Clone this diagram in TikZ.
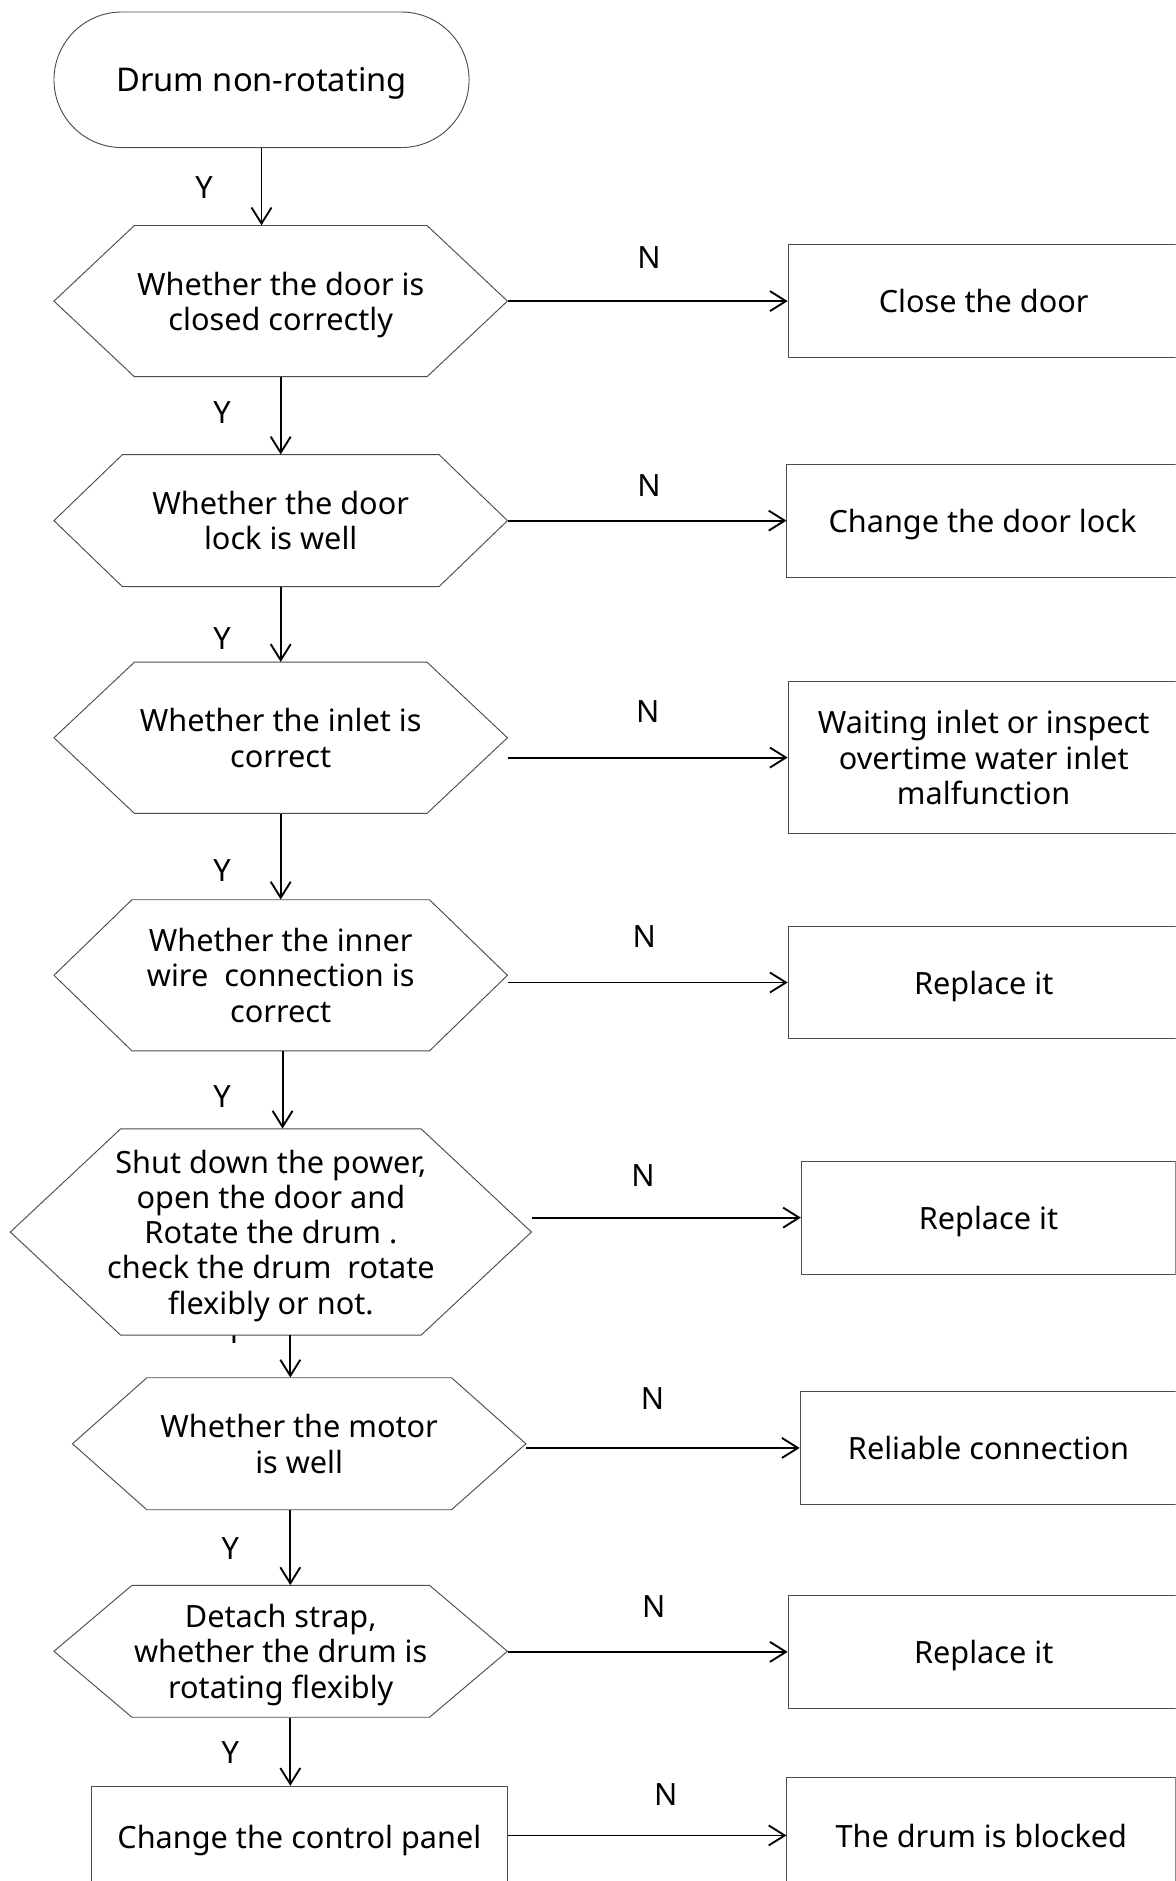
\documentclass[tikz,border=0pt]{standalone}
\usepackage{fontspec}
\setmainfont{Noto Sans}
\usetikzlibrary{arrows.meta,shapes.misc}
\tikzset{
  shapeline/.style={draw=black!70, line width=0.7pt},
  hexline/.style={shapeline, fill=white},
  hextext/.style={inner sep=0pt, shape=rectangle, align=center, text depth=0pt},
  term/.style={rounded rectangle, shapeline, minimum width=311.4pt, minimum height=101.7pt,
    inner sep=0pt, text depth=0pt, font=\fontsize{24.5}{28}\selectfont},
  actbox/.style={rectangle, shapeline, fill=white, inner sep=0pt, align=center, text depth=0pt},
  conn/.style={line width=1.4pt, -{Straight Barb[length=12pt,width=15pt]}},
  lbl/.style={inner sep=0pt},
}
% name, cx, cy, half width, half height, chamfer, text
\newcommand\hexnode[7]{%
  \path[hexline] ({#2-#4},#3) -- ({#2-#4+#6},{#3-#5}) -- ({#2+#4-#6},{#3-#5})
    -- ({#2+#4},#3) -- ({#2+#4-#6},{#3+#5}) -- ({#2-#4+#6},{#3+#5}) -- cycle;
  \node[hextext, minimum width={2*#4*0.9pt}, minimum height={2*#5*0.9pt}] (#1) at (#2,#3) {#7};
}
% name, cx, cy, width, height, text
\newcommand\actnode[6]{%
  \node[actbox, minimum width={#4*0.9pt}, minimum height={#5*0.9pt}] (#1) at (#2,#3) {#6};
}
\begin{document}
\begin{tikzpicture}[x=0.9pt, y=-0.9pt, font=\fontsize{23}{26.5}\selectfont]
\useasboundingbox (0,0) rectangle (980,1568);
\clip (0,0) rectangle (980,1568);

% terminal
\node[term] (T) at (218,66.5) {Drum non-rotating};

% decisions
\hexnode{h1}{234}{251}{189}{63}{67}{Whether the door is\\closed correctly}
\hexnode{h2}{234}{434}{189}{55}{57}{Whether the door\\lock is well}
\hexnode{h3}{234}{615}{189}{63}{67}{Whether the inlet is\\correct}
\hexnode{h4}{234}{813}{189}{63}{65}{Whether the inner\\wire\ \ connection is\\correct}

% label partly hidden behind the fifth decision
\node[lbl] (y5) at (195,1111) {Y};
\hexnode{h5}{225.8}{1027}{217.2}{86}{92}{Shut down the power,\\open the door and\\Rotate the drum .\\check the drum\ \ rotate\\flexibly or not.}
\hexnode{h6}{249.4}{1203.5}{189}{55}{62}{Whether the motor\\is well}
\hexnode{h7}{234}{1376.5}{189}{55}{65}{Detach strap,\\whether the drum is\\rotating flexibly}

\actnode{P}{249.5}{1531}{347}{84}{Change the control panel}

% actions on the right
\actnode{b1}{820}{251}{326}{94}{Close the door}
\actnode{b2}{819}{434}{326}{94}{Change the door lock}
\actnode{b3}{820}{631.5}{326}{127}{Waiting inlet or inspect\\overtime water inlet\\malfunction}
\actnode{b4}{820}{819}{326}{94}{Replace it}
\actnode{b5}{824}{1015}{312}{94}{Replace it}
\actnode{b6}{824}{1207}{314}{94}{Reliable connection}
\actnode{b7}{820}{1377}{326}{94}{Replace it}
\actnode{b8}{818}{1530}{324}{96}{The drum is blocked}

% vertical connectors
\coordinate (col) at (242,0);
\draw[conn] (T.south) -- (T.south |- h1.north);
\draw[conn] (h1.south) -- (h2.north);
\draw[conn] (h2.south) -- (h3.north);
\draw[conn] (h3.south) -- (h4.north);
\draw[conn] ([xshift=1.4pt]h4.south) -- ([xshift=1.4pt]h4.south |- h5.north);
\draw[conn] (h5.south -| col) -- (h6.north -| col);
\draw[conn] (h6.south -| col) -- (h7.north -| col);
\draw[conn] (h7.south -| col) -- (P.north -| col);

% horizontal connectors
\draw[conn] (h1.east |- b1.west) -- (b1.west);
\draw[conn] (h2.east |- b2.west) -- (b2.west);
\draw[conn] (h3.east |- b3.west) -- (b3.west);
\draw[conn] (h4.east |- b4.west) -- (b4.west);
\draw[conn] (h5.east |- b5.west) -- (b5.west);
\draw[conn] (h6.east |- b6.west) -- (b6.west);
\draw[conn] (h7.east |- b7.west) -- (b7.west);
\draw[conn] (P.east |- b8.west) -- (b8.west);

% Y labels
\node[lbl] (y0) at (170,156) {Y};
\node[lbl] (y1) at (185,344) {Y};
\node[lbl] (y2) at (185,532) {Y};
\node[lbl] (y3) at (185,726) {Y};
\node[lbl] (y4) at (185,914) {Y};
\node[lbl] (y6) at (192,1291) {Y};
\node[lbl] (y7) at (192,1461) {Y};

% N labels
\node[lbl] (n1) at (541,215) {N};
\node[lbl] (n2) at (541,405) {N};
\node[lbl] (n3) at (540,593) {N};
\node[lbl] (n4) at (537,781) {N};
\node[lbl] (n5) at (536,980) {N};
\node[lbl] (n6) at (544,1166) {N};
\node[lbl] (n7) at (545,1339) {N};
\node[lbl] (n8) at (555,1496) {N};
\end{tikzpicture}
\end{document}
